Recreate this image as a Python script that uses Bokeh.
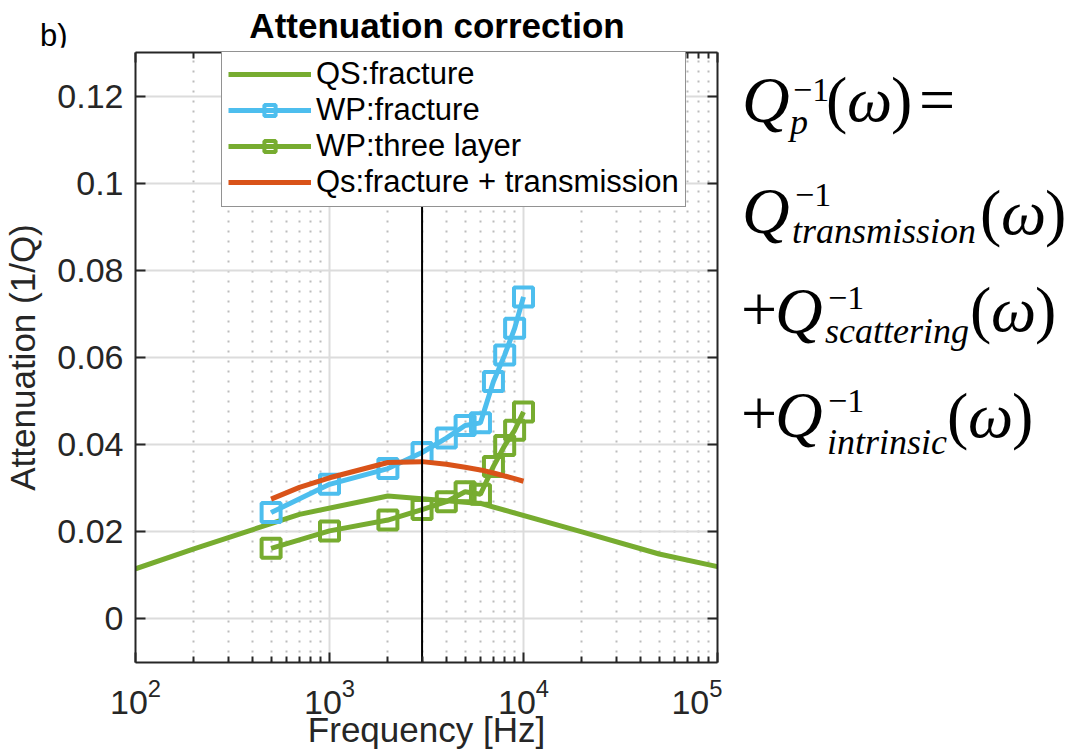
from bokeh.plotting import figure
from bokeh.models import (LinearAxis, FixedTicker, Legend, LegendItem, Range1d, Div)
from bokeh.layouts import column, row
from bokeh.embed import file_html
from bokeh.resources import INLINE

# ---------------- data ----------------
qs_fracture_freq = [100, 200, 700, 2000, 6000, 20000, 50000, 100000]
qs_fracture_att = [0.0115, 0.0161, 0.0240, 0.0282, 0.0265, 0.0200, 0.0149, 0.0120]

wp_freq = [500, 1000, 2000, 3000, 4000, 5000, 6000, 7000, 8000, 9000, 10000]
wp_fracture_att = [0.0244, 0.0309, 0.0345, 0.0382, 0.0415, 0.0444, 0.0450,
                   0.0545, 0.0606, 0.0667, 0.0739]
wp_three_layer_att = [0.0162, 0.0202, 0.0227, 0.0251, 0.0269, 0.0292, 0.0286,
                      0.0350, 0.0398, 0.0433, 0.0475]

qs_trans_freq = [500, 700, 1000, 2000, 3000, 4000, 5000, 6000, 7000, 8000, 9000, 10000]
qs_trans_att = [0.0275, 0.0302, 0.0324, 0.0359, 0.0361, 0.0355, 0.0348, 0.0342,
                0.0335, 0.0328, 0.0322, 0.0316]

marker_line_freq = [3000, 3000]
marker_line_att = [-0.011, 0.095]

series_labels = ["QS:fracture", "WP:fracture", "WP:three layer",
                 "Qs:fracture + transmission"]

x_ticks = [100, 1000, 10000, 100000]
x_minor_ticks = [200, 300, 400, 500, 600, 700, 800, 900,
                 2000, 3000, 4000, 5000, 6000, 7000, 8000, 9000,
                 20000, 30000, 40000, 50000, 60000, 70000, 80000, 90000]
y_ticks = [0.0, 0.02, 0.04, 0.06, 0.08, 0.1, 0.12]
y_tick_labels = ["0", "0.02", "0.04", "0.06", "0.08", "0.1", "0.12"]

title_text = "Attenuation correction"
panel_text = "b)"
x_label = "Frequency [Hz]"
y_label = "Attenuation (1/Q)"
eq_subscripts = ["p", "transmission", "scattering", "intrinsic"]

# ---------------- style ----------------
GREEN = "#77AC30"
BLUE = "#4DBEEE"
ORANGE = "#D95319"
AXC = "#262626"
SANS = "Liberation Sans"
SERIF = "Liberation Serif"

W, H = 1074, 751
TOP_H = 47          # height of the strip holding the title
MAIN_W = 722        # main figure width (frame right edge at 717)

ASC = {SANS: 0.8465, SERIF: 0.8375}

def span(x, y, text, size, family, ox, oy, style="normal", weight="normal",
         center=False):
    top = y - ASC[family] * size - oy
    tr = "transform:translateX(-50%);" if center else ""
    return (f'<span style="position:absolute;left:{x - ox}px;top:{top:.1f}px;'
            f"font-family:'{family}';font-size:{size}px;font-style:{style};"
            f'font-weight:{weight};line-height:{size}px;white-space:nowrap;'
            f'color:black;{tr}">{text}</span>')

def box(w, h, inner):
    return (f'<div style="position:relative;width:{w}px;height:{h}px;'
            f'overflow:visible;margin:0;padding:0;">{inner}</div>')

# ---------------- top strip (title) ----------------
top_html = box(W, TOP_H,
               span(437, 38, title_text, 35, SANS, 0, 0, weight="bold", center=True)
               + span(40, 46, panel_text, 31, SANS, 0, 0))
top = Div(text=top_html, width=W, height=TOP_H, margin=0,
          styles={"margin": "0", "padding": "0", "overflow": "visible"})

# ---------------- main plot ----------------
p = figure(width=MAIN_W, height=H - TOP_H, x_axis_type="log",
           x_range=Range1d(100, 100000), y_range=Range1d(-0.01, 0.13),
           output_backend="svg", toolbar_location=None, title_location=None,
           min_border_left=135, min_border_right=5,
           min_border_top=5, min_border_bottom=88)
p.background_fill_color = "white"
p.border_fill_color = "white"
p.outline_line_color = None

xt = FixedTicker(ticks=x_ticks, minor_ticks=x_minor_ticks)
yt = FixedTicker(ticks=y_ticks, minor_ticks=[])

def style_axis(ax, labels=True):
    ax.axis_line_color = AXC
    ax.axis_line_width = 2
    ax.major_tick_line_color = AXC
    ax.major_tick_line_width = 2
    ax.minor_tick_line_color = AXC
    ax.minor_tick_line_width = 2
    ax.major_tick_in = 10
    ax.major_tick_out = 0
    ax.minor_tick_in = 6
    ax.minor_tick_out = 0
    if labels:
        ax.major_label_text_font = SANS
        ax.major_label_text_font_size = "34px"
        ax.major_label_text_color = AXC
        ax.axis_label_text_font = SANS
        ax.axis_label_text_font_size = "35px"
        ax.axis_label_text_font_style = "normal"
        ax.axis_label_text_color = AXC
    else:
        ax.major_label_text_font_size = "2px"
        ax.major_label_text_alpha = 0
        ax.major_label_standoff = 0

xb = p.below[0]
xb.ticker = xt
style_axis(xb)
xb.axis_label = x_label
xb.major_label_standoff = 16
xb.axis_label_standoff = -7

yl = p.left[0]
yl.ticker = yt
style_axis(yl)
yl.axis_label = y_label
yl.major_label_overrides = dict(zip(y_ticks, y_tick_labels))
yl.major_label_standoff = 12
yl.axis_label_standoff = 12

xa = LinearAxis(ticker=xt)
style_axis(xa, labels=False)
p.add_layout(xa, "above")
yr = LinearAxis(ticker=yt)
style_axis(yr, labels=False)
p.add_layout(yr, "right")

p.xgrid.ticker = xt
p.ygrid.ticker = yt
for g in (p.xgrid, p.ygrid):
    g.grid_line_color = "#dcdcdc"
    g.grid_line_width = 2
p.xgrid.minor_grid_line_color = "#bcbcbc"
p.xgrid.minor_grid_line_width = 2
p.xgrid.minor_grid_line_dash = "2 8"

r_qs = p.line(qs_fracture_freq, qs_fracture_att, line_color=GREEN, line_width=5)
r_wpf = p.line(wp_freq, wp_fracture_att, line_color=BLUE, line_width=5)
r_wpf_m = p.scatter(wp_freq, wp_fracture_att, marker="square", size=19,
                    line_color=BLUE, line_width=4, fill_color=None)
r_wp3 = p.line(wp_freq, wp_three_layer_att, line_color=GREEN, line_width=5)
r_wp3_m = p.scatter(wp_freq, wp_three_layer_att, marker="square", size=19,
                    line_color=GREEN, line_width=4, fill_color=None)
r_qt = p.line(qs_trans_freq, qs_trans_att, line_color=ORANGE, line_width=5)
p.line(marker_line_freq, marker_line_att, line_color="black", line_width=2)

legend = Legend(items=[
    LegendItem(label=series_labels[0], renderers=[r_qs]),
    LegendItem(label=series_labels[1], renderers=[r_wpf, r_wpf_m]),
    LegendItem(label=series_labels[2], renderers=[r_wp3, r_wp3_m]),
    LegendItem(label=series_labels[3], renderers=[r_qt]),
], location=(221 - 135, 663 - 208))
legend.label_text_font = SANS
legend.label_text_font_size = "31px"
legend.label_text_color = "black"
legend.glyph_width = 83
legend.glyph_height = 28
legend.label_height = 28
legend.label_standoff = 5
legend.spacing = 0
legend.padding = 6
legend.margin = 0
legend.border_line_color = AXC
legend.border_line_width = 1.5
legend.background_fill_alpha = 1.0
p.add_layout(legend)

# ---------------- equations panel ----------------
OX, OY = MAIN_W, TOP_H
QF, PF, SUP, SUB = 66, 64, 34, 36
parts = []
def add(x, y, t, size, style="normal"):
    parts.append(span(x, y, t, size, SERIF, OX, OY, style=style))

def omega(x, y):
    add(x, y, "(", PF)
    add(x + 21, y, "\u03c9", PF, "italic")
    add(x + 65, y, ")", PF)

# line 1: Q_p^{-1}(w) =
add(742, 122, "Q", QF, "italic")
add(793, 101, "\u22121", SUP)
add(790, 134, eq_subscripts[0], SUB, "italic")
omega(826, 122)
add(919, 122, "=", PF)
# line 2
add(742, 233, "Q", QF, "italic")
add(795, 206, "\u22121", SUP)
add(792, 243, eq_subscripts[1], SUB, "italic")
omega(980, 235)
# line 3
add(741, 332, "+", PF)
add(775, 333, "Q", QF, "italic")
add(828, 309, "\u22121", SUP)
add(825, 343, eq_subscripts[2], SUB, "italic")
omega(970, 332)
# line 4
add(741, 436, "+", PF)
add(775, 437, "Q", QF, "italic")
add(828, 412, "\u22121", SUP)
add(827, 454, eq_subscripts[3], SUB, "italic")
omega(947, 438)

eq = Div(text=box(W - MAIN_W, H - TOP_H, "".join(parts)),
         width=W - MAIN_W, height=H - TOP_H, margin=0,
         styles={"margin": "0", "padding": "0", "overflow": "visible"})

layout = column(top, row(p, eq, spacing=0), spacing=0)
open("out.html", "w").write(file_html(layout, INLINE))
